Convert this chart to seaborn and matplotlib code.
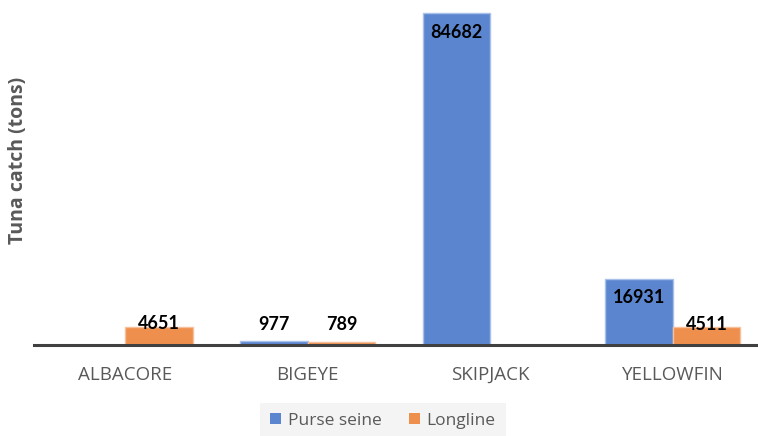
import numpy as np
import pandas as pd
import matplotlib
matplotlib.use("Agg")
import matplotlib.pyplot as plt
from matplotlib.patches import Patch
import seaborn as sns

# Tuna catch by species and gear type (tons)
species = ["ALBACORE", "BIGEYE", "SKIPJACK", "YELLOWFIN"]
purse_seine = [np.nan, 977, 84682, 16931]
longline = [4651, 789, np.nan, 4511]
gears = ["Purse seine", "Longline"]
colors = ["#5B86CF", "#EF8F4D"]
edge_colors = ["#A9C1EA", "#F6C09A"]

df = pd.DataFrame({
    "species": species * 2,
    "gear": [gears[0]] * len(species) + [gears[1]] * len(species),
    "catch": purse_seine + longline,
})

sns.set_theme(style="white")
plt.rcParams["font.family"] = ["Open Sans", "DejaVu Sans"]

fig = plt.figure(figsize=(7.58, 4.36), dpi=100)
ax = fig.add_axes([34 / 758, 91 / 436, 1 - 34 / 758, 340 / 436])

sns.barplot(data=df, x="species", y="catch", hue="gear", order=species,
            hue_order=gears, palette=colors, saturation=1, width=0.74, gap=0,
            linewidth=1, ax=ax, legend=False, errorbar=None)

ymax = 84682 * 340 / 332
ax.set_ylim(0, ymax)
ax.set_xlim(-0.5, 3.5 - 6 / 182)

# value labels: inside the end of tall bars, just above short ones
px_per_unit = 340 / ymax
for i, (container, vals) in enumerate(zip(ax.containers, [purse_seine, longline])):
    present = [v for v in vals if not np.isnan(v)]
    for bar, v in zip(container, present):
        bar.set_edgecolor(edge_colors[i])
        h_px = v * px_per_unit
        if v > 10000:
            y_px = h_px - 19
        else:
            y_px = max(h_px + 3, 20)
        ax.text(bar.get_x() + bar.get_width() / 2, y_px / px_per_unit,
                f"{int(v)}", ha="center", va="center", fontsize=13,
                fontweight="bold", color="black", family=["Lato", "DejaVu Sans"])

for s in ["top", "left", "right"]:
    ax.spines[s].set_visible(False)
ax.spines["bottom"].set_color("#404040")
ax.spines["bottom"].set_linewidth(2.2)
ax.set_yticks([])
ax.set_xlabel("")
ax.set_ylabel("")
ax.tick_params(axis="x", length=0, pad=15, labelsize=13.5, labelcolor="#595959")

fig.text(18 / 758, 1 - 160 / 436, "Tuna catch (tons)", rotation=90,
         ha="center", va="center", fontsize=14, fontweight="bold", color="#595959")

handles = [Patch(facecolor=c, edgecolor="none") for c in colors]
leg = fig.legend(handles, gears, loc="center", bbox_to_anchor=(383 / 758, 1 - 421 / 436),
                 ncol=2, frameon=True, fontsize=12.5, handlelength=0.6, handleheight=0.6,
                 handletextpad=0.4, columnspacing=1.6, borderpad=0.6, fancybox=False)
leg.get_frame().set_facecolor("#F2F2F2")
leg.get_frame().set_edgecolor("none")
for t in leg.get_texts():
    t.set_color("#595959")

fig.savefig("out.png", dpi=100, facecolor="white")
